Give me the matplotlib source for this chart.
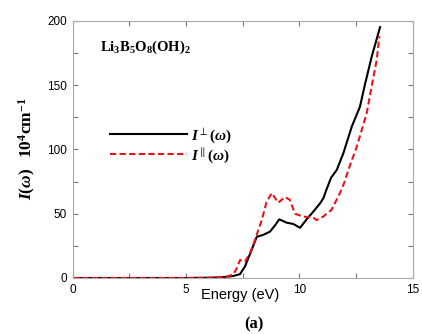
import matplotlib
matplotlib.use("Agg")
import matplotlib.pyplot as plt
from matplotlib.ticker import MultipleLocator

plt.rcParams['mathtext.fontset'] = 'custom'
plt.rcParams['mathtext.rm'] = 'Liberation Serif:bold'
plt.rcParams['mathtext.it'] = 'Liberation Serif:italic:bold'
plt.rcParams['mathtext.bf'] = 'Liberation Serif:bold'

# Data
E_perp = [0, 1, 2, 3, 4, 5, 6, 6.5, 6.8, 7.1, 7.38, 7.6, 7.83, 8.12, 8.4, 8.7,
          8.93, 9.11, 9.44, 9.73, 10.03, 10.32, 10.61, 10.91, 11.06, 11.2, 11.4,
          11.65, 11.94, 12.31, 12.67, 12.9, 13.19, 13.56]
I_perp = [0, 0, 0, 0, 0, 0, 0.2, 0.5, 1, 1.6, 3, 9, 19, 32, 33.5, 36,
          41, 45.6, 43, 42, 39, 45.6, 51.5, 58, 62, 69, 78,
          84, 97, 117.6, 133, 151, 172, 195]

E_par = [0, 1, 2, 3, 4, 5, 6, 6.5, 6.8, 7.1, 7.25, 7.38, 7.6, 7.83, 8.04, 8.34,
         8.55, 8.78, 9.07, 9.37, 9.59, 9.8, 10.17, 10.61, 10.76, 11.05, 11.42,
         11.79, 12.0, 12.16, 12.53, 12.75, 12.97, 13.19, 13.41, 13.53]
I_par = [0, 0, 0, 0, 0, 0, 0.2, 0.4, 1, 3, 8, 14, 12.7, 19.7, 29.5, 45,
         59, 66, 58.5, 63, 60.6, 50, 47.7, 47, 45, 47.7, 53,
         66, 75, 84, 102, 115, 128, 149, 169.5, 188]

fig = plt.figure(figsize=(4.22, 3.34), dpi=100)
ax = fig.add_axes([0.1723, 0.1677, 0.978 - 0.1723, 0.938 - 0.1677])

l1, = ax.plot(E_perp, I_perp, color='black', lw=1.5, label=r'$I^{\perp}(\omega)$')
l2, = ax.plot(E_par, I_par, color='#e8141c', lw=1.5, ls=(0, (3, 1.6)),
              label=r'$I^{\parallel}(\omega)$')

ax.set_xlim(0, 15)
ax.set_ylim(0, 200)
ax.xaxis.set_major_locator(MultipleLocator(5))
ax.xaxis.set_minor_locator(MultipleLocator(2.5))
ax.yaxis.set_major_locator(MultipleLocator(50))
ax.yaxis.set_minor_locator(MultipleLocator(25))
ax.tick_params(which='both', direction='in', top=True, right=True,
               length=3.5, width=0.8, color='#777777')
ax.tick_params(which='major', labelsize=8.5, pad=4)
for lab in ax.get_xticklabels() + ax.get_yticklabels():
    lab.set_family('Liberation Sans')
for s in ax.spines.values():
    s.set_color('#aaaaaa')
    s.set_linewidth(0.8)

ax.text(0.492, -0.066, 'Energy (eV)', transform=ax.transAxes, ha='center', va='center',
        fontsize=10.5, family='Liberation Sans')
fig.text(254 / 422, 1 - 324 / 334, '(a)', ha='center', va='center', fontsize=12,
         family='Liberation Serif', weight='bold')
fig.text(27 / 422, 1 - 149 / 334, r'$I(\omega)$  $\mathrm{10^4cm^{-1}}$', rotation=90,
         ha='center', va='center', fontsize=12.5)
fig.text(100 / 422, 1 - 47 / 334, r'$\mathrm{Li_3B_5O_8(OH)_2}$', ha='left', va='center',
         fontsize=10.5)

leg = ax.legend(handles=[l1, l2], loc='center left', bbox_to_anchor=(0.07, 0.515),
                frameon=False, fontsize=11, handlelength=5, labelspacing=0.05,
                handletextpad=0.3)

fig.savefig('out.png', dpi=100)
